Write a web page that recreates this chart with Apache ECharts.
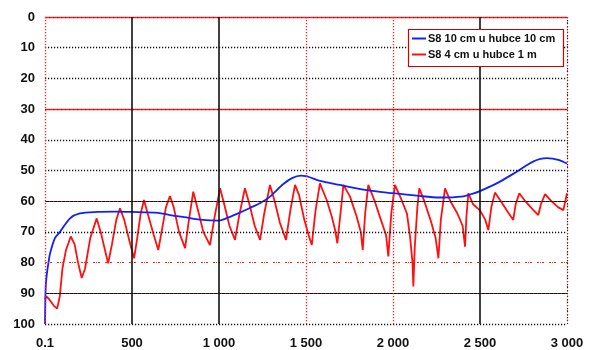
<!DOCTYPE html>
<html>
<head>
<meta charset="utf-8">
<script src="https://cdn.jsdelivr.net/npm/echarts@6/dist/echarts.min.js"></script>
<style>
  html, body { margin: 0; padding: 0; background: #fff; }
  #chart { width: 590px; height: 350px; }
</style>
</head>
<body>
<div id="chart"></div>
<script>
// Series names
const seriesNames = ['S8 10 cm u hubce 10 cm', 'S8 4 cm u hubce 1 m'];

// S8 10 cm – frequency (x) and level (y)
const blueX = [0.1, 2, 5, 12, 20, 29, 57, 86, 144, 200, 300, 400, 500, 650, 718, 800, 908, 1000, 1045, 1100, 1178, 1240, 1293, 1368, 1420, 1470, 1500, 1580, 1695, 1849, 2000, 2136, 2270, 2404, 2460, 2500, 2596, 2711, 2805, 2885, 2950, 3000];
const blueY = [100, 92, 87, 83, 80, 77, 72, 70, 65.6, 64, 63.5, 63.4, 63.5, 63.8, 64.5, 65.2, 66.1, 66.3, 65.5, 64.2, 62.2, 60.5, 58.5, 54.5, 52.5, 51.7, 51.8, 53.4, 54.7, 56.4, 57.4, 58.2, 58.8, 58.4, 57.5, 56.7, 54.2, 50.4, 47.1, 46, 46.5, 47.7];

// S8 4 cm – frequency (x) and level (y)
const redX = [0.1, 8, 25, 50, 70, 85, 100, 120, 148, 170, 190, 211, 230, 260, 297, 320, 345, 363, 385, 410, 431, 455, 490, 512, 530, 550, 569, 590, 625, 651, 670, 695, 718, 740, 770, 805, 825, 852, 875, 910, 948, 975, 1006, 1030, 1060, 1092, 1115, 1149, 1175, 1205, 1236, 1260, 1293, 1320, 1350, 1385, 1410, 1437, 1460, 1490, 1515, 1533, 1555, 1580, 1619, 1648, 1667, 1680, 1703, 1715, 1753, 1791, 1815, 1826, 1840, 1858, 1895, 1930, 1960, 1973, 1990, 2011, 2045, 2080, 2098, 2112, 2117, 2125, 2140, 2151, 2180, 2215, 2245, 2261, 2275, 2299, 2330, 2370, 2400, 2414, 2422, 2433, 2460, 2500, 2530, 2548, 2565, 2586, 2620, 2660, 2691, 2705, 2726, 2760, 2800, 2835, 2850, 2874, 2910, 2950, 2979, 3000];
const redY = [92, 91, 92, 94, 95, 91, 82, 76, 71.5, 74, 80, 85, 82, 72, 65.6, 70, 76, 80.2, 74, 66, 62.3, 66, 74, 78.6, 72, 64, 59.6, 64, 71, 75.9, 70, 62, 58.3, 62, 70, 75.3, 67, 56.9, 62, 70, 74.3, 65, 55.8, 61, 68, 72.6, 65, 55.8, 61, 68, 72.6, 64, 54.7, 60, 67, 72.6, 63, 54.7, 58, 66, 71, 74.3, 63, 54.2, 59.6, 65, 69.3, 73.7, 61.4, 54.7, 58.5, 65, 70, 75.9, 64, 54.7, 60, 66, 71, 78, 64, 54.7, 59, 64, 71.5, 80, 87.8, 75, 62, 55.8, 60, 66, 72, 78.6, 66, 55.8, 60, 64, 68, 74.8, 65, 57.4, 61, 63, 66, 69.4, 62, 57.2, 60, 63.5, 66.1, 61, 57.4, 60, 62.5, 64.5, 61, 57.7, 60, 62, 62.9, 57.4];

// Axis ticks
const xTicks = [0, 500, 1000, 1500, 2000, 2500, 3000];
const yTicks = [0, 10, 20, 30, 40, 50, 60, 70, 80, 90, 100];

const zip = (xs, ys) => xs.map((x, i) => [x, ys[i]]);

const DOT = [1.2, 1.8];
const font = '"Liberation Sans", Arial, sans-serif';

// Grid line styles per value
function hLine(v, color, type, width) {
  return { yAxis: v, lineStyle: { color, type, width } };
}
function vLine(v, color, type, width) {
  return { xAxis: v, lineStyle: { color, type, width } };
}

const gridLines = [];
yTicks.forEach(v => {
  if (v === 0 || v === 30) {
    gridLines.push(hLine(v, '#ff1a1a', 'solid', 1.4));
    gridLines.push(hLine(v, '#333', [1, 3], 1.2));
  } else if (v === 60 || v === 90) {
    gridLines.push(hLine(v, '#111', 'solid', 1.2));
    gridLines.push(hLine(v, '#e00000', [1, 3], 1.2));
  } else if (v === 80) {
    gridLines.push(hLine(v, '#ff2020', [2, 1, 1, 1, 2, 5], 1.2));
  } else {
    gridLines.push(hLine(v, '#111', DOT, 1.3));
  }
});
xTicks.forEach(v => {
  if (v === 500 || v === 1000 || v === 2500) {
    gridLines.push(vLine(v, '#111', 'solid', 1.6));
  } else if (v === 3000) {
    gridLines.push(vLine(v, '#222', DOT, 1.2));
    gridLines.push(vLine(v, '#ff2020', [1.2, 3.6], 1.2));
  } else {
    gridLines.push(vLine(v, '#ff2020', DOT, 1.3));
  }
});

const chart = echarts.init(document.getElementById('chart'), null, { renderer: 'canvas' });

chart.setOption({
  animation: false,
  backgroundColor: '#fff',
  grid: { left: 45, right: 23, top: 17, bottom: 26, containLabel: false },
  graphic: [{
    type: 'rect',
    z: 90,
    shape: { x: 408.5, y: 29.5, width: 155, height: 37 },
    style: { fill: '#fff', stroke: '#d00000', lineWidth: 1.2 }
  }],
  legend: {
    data: seriesNames,
    orient: 'vertical',
    left: 410,
    top: 31,
    z: 100,
    itemWidth: 14,
    itemHeight: 2,
    itemGap: 5,
    padding: [2, 2, 2, 2],
    icon: 'rect',
    textStyle: { fontFamily: font, fontSize: 11, fontWeight: 'bold', color: '#111', padding: [0, 0, 0, -3] }
  },
  xAxis: {
    type: 'value',
    min: 0,
    max: 3000,
    interval: 500,
    axisLine: { show: false },
    axisTick: { show: false },
    splitLine: { show: false },
    axisLabel: {
      margin: 13,
      fontFamily: font,
      fontSize: 13,
      fontWeight: 'bold',
      color: '#111',
      formatter: v => v === 0 ? '0.1' : String(v).replace(/\B(?=(\d{3})+(?!\d))/g, ' ')
    }
  },
  yAxis: {
    type: 'value',
    inverse: true,
    min: 0,
    max: 100,
    interval: 10,
    axisLine: { show: false },
    axisTick: { show: false },
    splitLine: { show: false },
    axisLabel: {
      margin: 10,
      fontFamily: font,
      fontSize: 13,
      fontWeight: 'bold',
      color: '#111'
    }
  },
  series: [
    {
      name: 'grid',
      type: 'line',
      data: [],
      silent: true,
      z: 1,
      markLine: {
        silent: true,
        symbol: 'none',
        animation: false,
        label: { show: false },
        data: gridLines
      }
    },
    {
      name: seriesNames[1],
      type: 'line',
      data: zip(redX, redY),
      showSymbol: false,
      color: '#ff1010',
      lineStyle: { color: '#ff1010', width: 1.8 },
      z: 3
    },
    {
      name: seriesNames[0],
      type: 'line',
      data: zip(blueX, blueY),
      smooth: 0.3,
      showSymbol: false,
      color: '#1020ff',
      lineStyle: { color: '#1020ff', width: 1.8 },
      z: 4
    }
  ]
});
</script>
</body>
</html>
